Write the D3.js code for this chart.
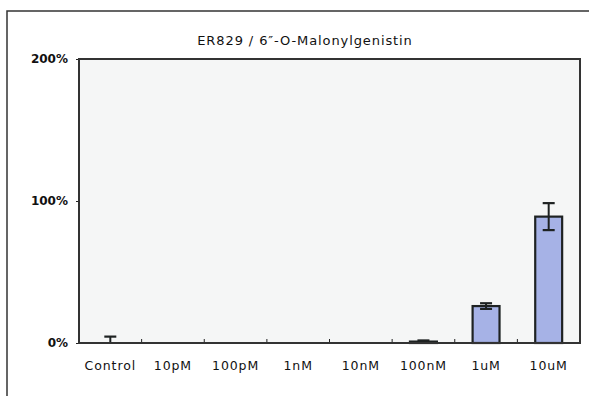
<!DOCTYPE html>
<html><head><meta charset="utf-8">
<script src="https://cdn.jsdelivr.net/npm/d3@7"></script>
<style>body{margin:0;background:#fff}svg{display:block}</style>
</head><body>
<svg id="c" width="589" height="396"></svg>
<script>
const categories = ["Control","10pM","100pM","1nM","10nM","100nM","1uM","10uM"];
const values = [0, 0, 0, 0, 0, 1, 26, 89];
const errors = [4.5, 0, 0, 0, 0, 0.8, 2, 9.5];
const yTicks = [0, 100, 200];
const title = "ER829 / 6\u2033-O-Malonylgenistin";

const svg = d3.select("#c");
const m = {l:79, t:59, r:580, b:343};
const font = "'DejaVu Sans', 'Liberation Sans', sans-serif";

// outer frame
svg.append("rect").attr("x",7).attr("y",11).attr("width",600).attr("height",420)
  .attr("fill","none").attr("stroke","#333").attr("stroke-width",1.5);

const x = d3.scaleBand().domain(categories).range([m.l,m.r]).paddingInner(0).paddingOuter(0);
const y = d3.scaleLinear().domain([0,200]).range([m.b,m.t]);

svg.append("rect").attr("x",m.l).attr("y",m.t).attr("width",m.r-m.l).attr("height",m.b-m.t)
  .attr("fill","#f5f6f6");

svg.append("text").attr("x",305).attr("y",45).attr("text-anchor","middle")
  .attr("font-family",font).attr("font-size",13).attr("letter-spacing","0.9")
  .attr("fill","#111").text(title);

const bw = x.bandwidth()*0.43;
const g = svg.append("g");
categories.forEach((c,i)=>{
  const cx = x(c)+x.bandwidth()/2;
  if (values[i]>0) {
    g.append("rect").attr("x",cx-bw/2).attr("y",y(values[i]))
      .attr("width",bw).attr("height",y(0)-y(values[i]))
      .attr("fill","#a6b2e6").attr("stroke","#1e2222").attr("stroke-width",2.2);
  }
  if (errors[i]>0) {
    const top = y(values[i]+errors[i]), bot = y(Math.max(0,values[i]-errors[i]));
    g.append("line").attr("x1",cx).attr("x2",cx).attr("y1",top).attr("y2",bot)
      .attr("stroke","#1e2222").attr("stroke-width",2);
    [top, values[i]-errors[i] > 0 ? bot : null].forEach(yy=>{
      if (yy===null) return;
      g.append("line").attr("x1",cx-6).attr("x2",cx+6).attr("y1",yy).attr("y2",yy)
        .attr("stroke","#1e2222").attr("stroke-width",2.2);
    });
  }
});

// y axis
const ya = svg.append("g").attr("transform",`translate(${m.l},0)`)
  .call(d3.axisLeft(y).tickValues(yTicks).tickSize(3).tickFormat(d=>d+"%"));
ya.select(".domain").remove();
ya.selectAll("text").attr("font-family",font).attr("font-size",12).attr("font-weight","bold")
  .attr("fill","#111").attr("x",-11);
ya.selectAll("line").attr("stroke","#222");

// x axis ticks at band boundaries
const xa = svg.append("g").attr("transform",`translate(0,${m.b})`)
  .call(d3.axisBottom(x).tickSize(0).tickPadding(18));
xa.select(".domain").remove();
xa.selectAll("text").attr("font-family",font).attr("font-size",12.5).attr("letter-spacing","0.9")
  .attr("fill","#111");
categories.slice(1).forEach(c=>{
  svg.append("line").attr("x1",x(c)).attr("x2",x(c)).attr("y1",m.b).attr("y2",m.b-4)
    .attr("stroke","#222").attr("stroke-width",1);
});

// plot border
svg.append("rect").attr("x",m.l).attr("y",m.t).attr("width",m.r-m.l).attr("height",m.b-m.t)
  .attr("fill","none").attr("stroke","#333").attr("stroke-width",2);
</script>
</body></html>
